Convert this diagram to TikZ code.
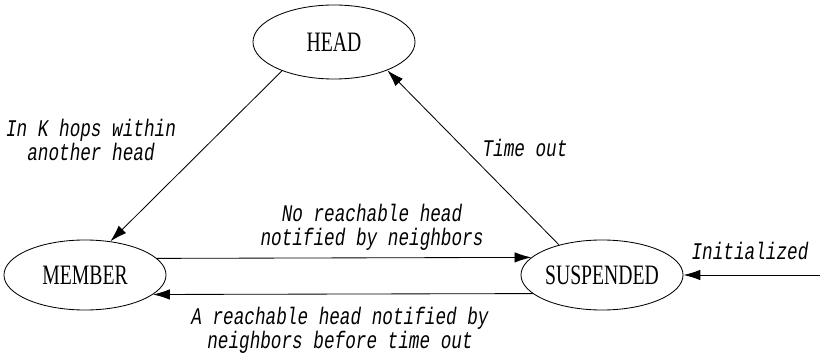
\documentclass[tikz,border=0pt]{standalone}
\usepackage{fontspec}
\newfontfamily\statefont[FakeStretch=0.70]{Liberation Serif}
\newfontfamily\edgefont[FakeStretch=0.74]{Liberation Mono}
\usetikzlibrary{arrows.meta,shapes.geometric}

\tikzset{
    state/.style={draw, ellipse, line width=0.6pt, inner sep=0pt,
        minimum width=4.05cm, minimum height=1.75cm,
        font=\statefont\fontsize{20}{22}\selectfont},
    edge/.style={line width=0.6pt, -{Latex[length=0.42cm,width=0.26cm]}},
    cond/.style={align=center, inner sep=0pt,
        font=\edgefont\itshape\fontsize{17}{17.2}\selectfont}
}

\begin{document}
\begin{tikzpicture}[x=0.025cm, y=-0.025cm]
    \useasboundingbox (0,0) rectangle (820,353);

    \node[state, minimum height=1.85cm] (head) at (334,42) {HEAD};
    \node[state] (member) at (85,275) {MEMBER};
    \node[state] (susp) at (602,275) {SUSPENDED};
    \coordinate (init) at (820,275);

    \draw[edge] (head.209) -- (member.53);
    \draw[edge] (susp.145) -- (head.332);
    \draw[edge] (member.13.5) -- (susp.166.5);
    \draw[edge] (susp.195.6) -- (member.344.4);
    \draw[edge] (init) -- (susp.east);

    \node[cond] (c1) at (91,140) {In K hops within\\another head};
    \node[cond] (c2) at (525,148) {Time out};
    \node[cond] (c3) at (372,227) {No reachable head\\notified by neighbors};
    \node[cond] (c4) at (340,330) {A reachable head notified by\\neighbors before time out};
    \node[cond] (c5) at (750,251) {Initialized};
\end{tikzpicture}
\end{document}
